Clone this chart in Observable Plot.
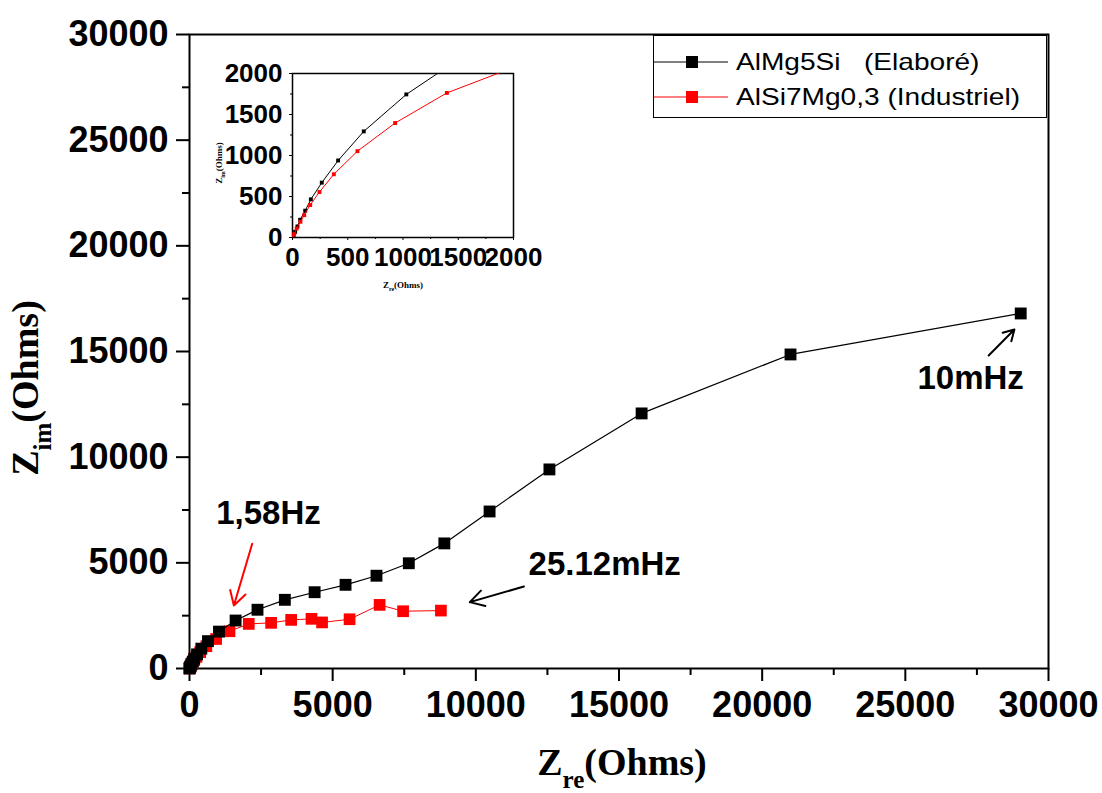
<!DOCTYPE html>
<html>
<head>
<meta charset="utf-8">
<script src="https://cdn.jsdelivr.net/npm/d3@7"></script>
<script src="https://cdn.jsdelivr.net/npm/@observablehq/plot@0.6"></script>
<style>
  body { margin: 0; background: #fff; }
  #wrap { position: relative; width: 1102px; height: 793px; overflow: hidden; background: #fff; }
  #wrap svg { position: absolute; }
  .serif { font-family: "Liberation Serif", "Times New Roman", serif; font-weight: bold; color: #000; position: absolute; white-space: nowrap; }
  #legend { position: absolute; left: 653px; top: 35px; width: 392px; height: 81px; border: 1.5px solid #000; background: #fff;
            font-family: "Liberation Sans", Arial, sans-serif; font-size: 24px; color: #000; }
  .row { position: absolute; left: 0; height: 28px; display: flex; align-items: center; white-space: pre; }
  .row svg { position: static !important; margin-right: 8px; }
  .row span { display: inline-block; transform: scaleX(1.17); transform-origin: left center; }
</style>
</head>
<body>
<div id="wrap"></div>
<script>
// ---- data (Z_re, Z_im in Ohms) ----
const blackZre = [0, 9, 24, 45, 69, 115, 166, 265, 413, 645, 1030, 1610, 2375, 3330, 4370, 5450, 6530, 7660, 8900, 10480, 12570, 15790, 20990, 29030];
const blackZim = [0, 29, 69, 135, 216, 327, 465, 669, 939, 1294, 1745, 2270, 2780, 3250, 3610, 3960, 4390, 4980, 5920, 7430, 9420, 12070, 14860, 16800];
const redZre = [0, 15, 38, 72, 106, 160, 244, 374, 588, 929, 1397, 2070, 2850, 3550, 4260, 4630, 5590, 6640, 7460, 8780];
const redZim = [0, 40, 110, 192, 273, 396, 555, 771, 1053, 1396, 1763, 2110, 2160, 2300, 2350, 2180, 2330, 3010, 2710, 2740];
const seriesNames = ["AlMg5Si   (Elaboré)", "AlSi7Mg0,3 (Industriel)"];
const seriesColors = ["#000000", "#ff0000"];

const majorTicks = [0, 5000, 10000, 15000, 20000, 25000, 30000];
const minorTicks = [2500, 7500, 12500, 17500, 22500, 27500];
const insetMajor = [0, 500, 1000, 1500, 2000];
const insetMinor = [250, 750, 1250, 1750];

const annoLabels = ["10mHz", "1,58Hz", "25.12mHz"];
const annoX = [27280, 2760, 14500];
const annoY = [13720, 7340, 4920];
const arrowX1 = [27910, 2190, 11680];
const arrowY1 = [14810, 5900, 3880];
const arrowX2 = [28810, 1550, 9790];
const arrowY2 = [16040, 2980, 3140];
const arrowColors = ["#000000", "#ff0000", "#000000"];

const black = blackZre.map((x, i) => ({x, y: blackZim[i]}));
const red = redZre.map((x, i) => ({x, y: redZim[i]}));
const annos = annoLabels.map((t, i) => ({t, x: annoX[i], y: annoY[i]}));
const arrows = arrowX1.map((x1, i) => ({x1, y1: arrowY1[i], x2: arrowX2[i], y2: arrowY2[i], c: arrowColors[i]}));

const wrap = document.getElementById("wrap");
const sans = "'Liberation Sans', Arial, sans-serif";

const main = Plot.plot({
  width: 1102, height: 793,
  marginLeft: 189, marginRight: 54, marginTop: 34, marginBottom: 125,
  x: {domain: [0, 30000]},
  y: {domain: [0, 30000]},
  style: {fontFamily: sans, fontSize: "36px", fontWeight: "bold", background: "transparent", color: "#000", overflow: "visible"},
  marks: [
    Plot.frame({stroke: "#000", strokeWidth: 2}),
    Plot.axisX({ticks: majorTicks, tickSize: 13, tickPadding: 10, tickFormat: d => String(d), label: null, strokeWidth: 2}),
    Plot.axisX({ticks: minorTicks, tickSize: 7, tickFormat: () => "", label: null, strokeWidth: 2}),
    Plot.axisY({ticks: majorTicks, tickSize: 13, tickPadding: 8, tickFormat: d => String(d), label: null, strokeWidth: 2}),
    Plot.axisY({ticks: minorTicks, tickSize: 7, tickFormat: () => "", label: null, strokeWidth: 2}),
    Plot.line(red, {x: "x", y: "y", stroke: seriesColors[1], strokeWidth: 1}),
    Plot.dot(red, {x: "x", y: "y", symbol: "square", fill: seriesColors[1], r: 6.6}),
    Plot.line(black, {x: "x", y: "y", stroke: seriesColors[0], strokeWidth: 1.2}),
    Plot.dot(black, {x: "x", y: "y", symbol: "square", fill: seriesColors[0], r: 6.7}),
    Plot.arrow(arrows, {x1: "x1", y1: "y1", x2: "x2", y2: "y2", stroke: "c", strokeWidth: 2, headLength: 12}),
    Plot.text(annos, {x: "x", y: "y", text: "t", fontSize: 33, fontWeight: "bold", fill: "#000"})
  ]
});
main.style.left = "0px"; main.style.top = "0px";
wrap.appendChild(main);

// inset
const inset = Plot.plot({
  width: 345, height: 245,
  marginLeft: 92, marginRight: 32, marginTop: 18, marginBottom: 63,
  x: {domain: [0, 2000]},
  y: {domain: [0, 2000]},
  style: {fontFamily: sans, fontSize: "26px", fontWeight: "bold", background: "transparent", color: "#000", overflow: "visible"},
  marks: [
    Plot.frame({stroke: "#000", strokeWidth: 1.5}),
    Plot.axisX({ticks: insetMajor, tickSize: 3, tickPadding: 7, tickFormat: d => String(d), label: null}),
    Plot.axisX({ticks: insetMinor, tickSize: 2, tickFormat: () => "", label: null}),
    Plot.axisY({ticks: insetMajor, tickSize: 3, tickPadding: 7, tickFormat: d => String(d), label: null}),
    Plot.axisY({ticks: insetMinor, tickSize: 2, tickFormat: () => "", label: null}),
    Plot.line(black, {x: "x", y: "y", stroke: seriesColors[0], strokeWidth: 1, clip: true}),
    Plot.dot(black, {x: "x", y: "y", symbol: "square", fill: seriesColors[0], r: 2.2, clip: true}),
    Plot.line(red, {x: "x", y: "y", stroke: seriesColors[1], strokeWidth: 1, clip: true}),
    Plot.dot(red, {x: "x", y: "y", symbol: "square", fill: seriesColors[1], r: 2.2, clip: true})
  ]
});
inset.style.left = "200px"; inset.style.top = "55px";
wrap.appendChild(inset);

// axis titles
const xt = document.createElement("div");
xt.className = "serif";
xt.style.cssText += "left:622px; top:740px; font-size:38px; transform:translateX(-50%);";
xt.innerHTML = 'Z<sub style="font-size:25px; vertical-align:-13px;">re</sub>(Ohms)';
wrap.appendChild(xt);

const yt = document.createElement("div");
yt.className = "serif";
yt.style.cssText += "left:30px; top:388px; font-size:38px; transform:translate(-50%,-50%) rotate(-90deg);";
yt.innerHTML = 'Z<sub style="font-size:25px; vertical-align:-13px;">im</sub>(Ohms)';
wrap.appendChild(yt);

const ixt = document.createElement("div");
ixt.className = "serif";
ixt.style.cssText += "left:403px; top:280px; font-size:9px; transform:translateX(-50%);";
ixt.innerHTML = 'Z<sub style="font-size:6px; vertical-align:-3px;">re</sub>(Ohms)';
wrap.appendChild(ixt);

const iyt = document.createElement("div");
iyt.className = "serif";
iyt.style.cssText += "left:220px; top:163px; font-size:9px; transform:translate(-50%,-50%) rotate(-90deg);";
iyt.innerHTML = 'Z<sub style="font-size:6px; vertical-align:-3px;">im</sub>(Ohms)';
wrap.appendChild(iyt);

// legend
const legend = document.createElement("div");
legend.id = "legend";
seriesNames.forEach((name, i) => {
  const row = document.createElement("div");
  row.className = "row";
  row.style.top = (i === 0 ? 12 : 47) + "px";
  const c = seriesColors[i];
  row.innerHTML = `<svg width="74" height="28"><line x1="0" y1="14" x2="74" y2="14" stroke="${c}" stroke-width="1.2"/><rect x="32" y="8" width="12" height="12" fill="${c}"/></svg><span>${name}</span>`;
  legend.appendChild(row);
});
wrap.appendChild(legend);
</script>
</body>
</html>
